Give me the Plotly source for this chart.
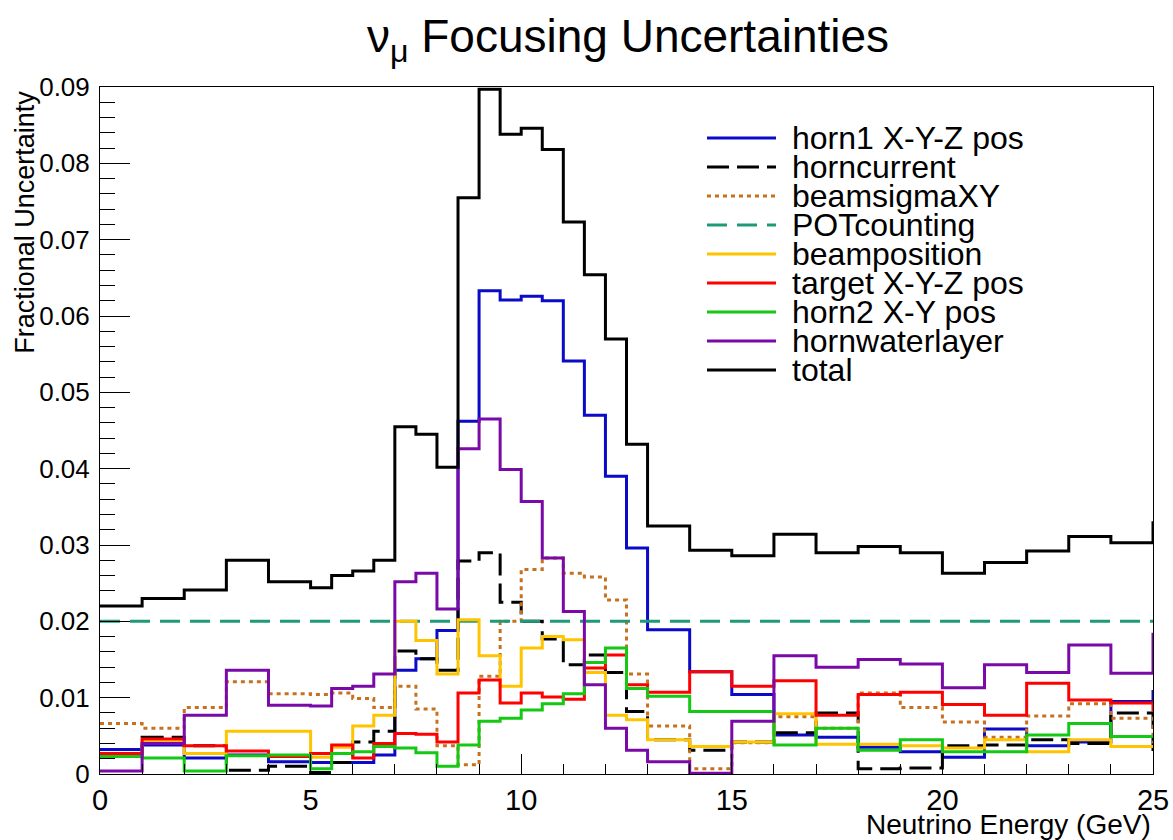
import plotly.graph_objects as go

# Energy binning (GeV): 1 GeV bins up to 5, 0.5 GeV bins to 13, then 1 GeV bins to 25
bin_edges = [0, 1, 2, 3, 4, 5, 5.5, 6, 6.5, 7, 7.5, 8, 8.5, 9, 9.5, 10, 10.5,
             11, 11.5, 12, 12.5, 13, 14, 15, 16, 17, 18, 19, 20, 21, 22, 23, 24, 25]

horn1_xyz = [0.0032, 0.0038, 0.0021, 0.0025, 0.0016, 0.0015, 0.0015, 0.0015, 0.0025,
             0.0136, 0.0151, 0.0188, 0.0462, 0.0633, 0.0621, 0.0626, 0.0620, 0.0541,
             0.0470, 0.0390, 0.0296, 0.0189, 0.0134, 0.0104, 0.0051, 0.0048, 0.0035,
             0.0029, 0.0022, 0.0059, 0.0037, 0.0042, 0.0095]
horncurrent = [0.0024, 0.0048, 0.0037, 0.0005, 0.0010, 0.0002, 0.0015, 0.0042, 0.0056,
               0.0161, 0.0151, 0.0136, 0.0279, 0.0290, 0.0225, 0.0200, 0.0177, 0.0143,
               0.0156, 0.0133, 0.0082, 0.0045, 0.0031, 0.0042, 0.0054, 0.0080, 0.0007,
               0.0008, 0.0037, 0.0038, 0.0045, 0.0040, 0.0080]
beamsigma_xy = [0.0066, 0.0060, 0.0087, 0.0121, 0.0105, 0.0104, 0.0106, 0.0099, 0.0087,
                0.0115, 0.0085, 0.0037, 0.0012, 0.0128, 0.0200, 0.0268, 0.0283, 0.0263,
                0.0258, 0.0228, 0.0131, 0.0063, 0.0007, 0.0041, 0.0075, 0.0060, 0.0106,
                0.0087, 0.0068, 0.0048, 0.0076, 0.0092, 0.0073]
pot_counting = [0.0200] * 33
beam_position = [0.0025, 0.0042, 0.0027, 0.0056, 0.0056, 0.0022, 0.0035, 0.0063, 0.0077,
                 0.0200, 0.0175, 0.0131, 0.0202, 0.0155, 0.0115, 0.0165, 0.0180, 0.0176,
                 0.0133, 0.0077, 0.0071, 0.0045, 0.0036, 0.0042, 0.0079, 0.0039, 0.0039,
                 0.0037, 0.0034, 0.0045, 0.0029, 0.0045, 0.0036]
target_xyz = [0.0027, 0.0046, 0.0037, 0.0030, 0.0023, 0.0027, 0.0038, 0.0021, 0.0040,
              0.0053, 0.0052, 0.0042, 0.0106, 0.0123, 0.0093, 0.0106, 0.0101, 0.0098,
              0.0139, 0.0156, 0.0117, 0.0107, 0.0134, 0.0115, 0.0122, 0.0077, 0.0104,
              0.0107, 0.0091, 0.0077, 0.0119, 0.0097, 0.0093]
horn2_xy = [0.0023, 0.0021, 0.0004, 0.0024, 0.0025, 0.0007, 0.0027, 0.0029, 0.0036,
            0.0034, 0.0028, 0.0010, 0.0038, 0.0069, 0.0073, 0.0084, 0.0092, 0.0105,
            0.0146, 0.0165, 0.0112, 0.0102, 0.0082, 0.0082, 0.0038, 0.0060, 0.0031,
            0.0045, 0.0029, 0.0029, 0.0051, 0.0066, 0.0049]
horn_water_layer = [0.0004, 0.0040, 0.0077, 0.0136, 0.0090, 0.0089, 0.0112, 0.0115, 0.0131,
                    0.0252, 0.0263, 0.0216, 0.0426, 0.0465, 0.0399, 0.0357, 0.0283, 0.0213,
                    0.0117, 0.0060, 0.0031, 0.0016, 0.0001, 0.0069, 0.0155, 0.0140, 0.0150,
                    0.0144, 0.0113, 0.0143, 0.0133, 0.0169, 0.0132]
total = [0.0220, 0.0230, 0.0241, 0.0280, 0.0252, 0.0244, 0.0260, 0.0266, 0.0280,
         0.0455, 0.0445, 0.0402, 0.0755, 0.0897, 0.0838, 0.0846, 0.0818, 0.0723,
         0.0654, 0.0570, 0.0432, 0.0325, 0.0293, 0.0286, 0.0314, 0.0290, 0.0298,
         0.0290, 0.0263, 0.0277, 0.0292, 0.0311, 0.0303]

# content of the overflow bin (the outline steps to it at the upper edge)
overflow = {
    "horn1 X-Y-Z pos": 0.0110, "horncurrent": 0.0030, "beamsigmaXY": 0.0040,
    "POTcounting": 0.0200, "beamposition": 0.0036, "target X-Y-Z pos": 0.0082,
    "horn2 X-Y pos": 0.0049, "hornwaterlayer": 0.0185, "total": 0.0331,
}

series = [
    ("horn1 X-Y-Z pos", horn1_xyz, "#0a0ac8", "solid"),
    ("horncurrent", horncurrent, "#000000", "22px,8px"),
    ("beamsigmaXY", beamsigma_xy, "#c8701e", "4px,4px"),
    ("POTcounting", pot_counting, "#1e9a78", "20px,10px"),
    ("beamposition", beam_position, "#ffc400", "solid"),
    ("target X-Y-Z pos", target_xyz, "#ff0000", "solid"),
    ("horn2 X-Y pos", horn2_xy, "#14c814", "solid"),
    ("hornwaterlayer", horn_water_layer, "#7a0aa8", "solid"),
    ("total", total, "#000000", "solid"),
]

FONT = "Liberation Sans, Arial, Helvetica, sans-serif"
LINE_W = 3

fig = go.Figure()

for name, vals, color, dash in series:
    xs = list(bin_edges[:-1]) + [bin_edges[-1]]
    ys = list(vals) + [overflow[name]]
    fig.add_trace(go.Scatter(
        x=xs, y=ys, mode="lines", name=name, showlegend=False,
        line=dict(shape="hv", color=color, width=LINE_W, dash=dash),
        hoverinfo="skip",
    ))

# Legend drawn on a pixel-coordinate overlay so the sample lines can be long
leg_x0, leg_x1, leg_text_x = 707, 776, 791
leg_y0, leg_dy = 138, 29
for i, (name, vals, color, dash) in enumerate(series):
    yy = leg_y0 + i * leg_dy
    fig.add_trace(go.Scatter(
        x=[leg_x0, leg_x1], y=[yy, yy], mode="lines", showlegend=False,
        xaxis="x2", yaxis="y2", hoverinfo="skip",
        line=dict(color=color, width=LINE_W, dash=dash),
    ))
    fig.add_annotation(
        x=leg_text_x, y=yy, xref="x2", yref="y2", text=name, showarrow=False,
        xanchor="left", yanchor="middle", borderpad=0,
        font=dict(family=FONT, size=32, color="black"),
    )

fig.add_annotation(
    x=1.0, y=-0.074, xref="paper", yref="paper", text="Neutrino Energy (GeV)",
    showarrow=False, xanchor="right", yanchor="middle",
    font=dict(family=FONT, size=28, color="black"),
)
fig.add_annotation(
    x=-0.072, y=0.997, xref="paper", yref="paper", text="Fractional Uncertainty",
    showarrow=False, xanchor="center", yanchor="top", textangle=-90,
    font=dict(family=FONT, size=27, color="black"),
)

fig.update_layout(
    width=1173, height=840,
    margin=dict(l=100, r=20, t=87, b=66),
    paper_bgcolor="white", plot_bgcolor="white",
    font=dict(family=FONT, color="black"),
    title=dict(
        text="\u03bd<sub>\u03bc</sub> Focusing Uncertainties",
        x=0.5354, xanchor="center", y=1 - 36 / 840, yanchor="middle",
        font=dict(family=FONT, size=46, color="black"),
    ),
    xaxis=dict(
        range=[0, 25], tickvals=[0, 5, 10, 15, 20, 25], ticks="inside", ticklen=20,
        tickwidth=1, tickcolor="black", showline=True, linecolor="black", linewidth=1,
        mirror=True, showgrid=False, zeroline=False, automargin=False,
        tickfont=dict(family=FONT, size=29, color="black"),
        minor=dict(dtick=1, ticks="inside", ticklen=10, tickcolor="black", showgrid=False),
    ),
    yaxis=dict(
        range=[0, 0.09], dtick=0.01, tick0=0, ticks="inside", ticklen=30,
        tickwidth=1, tickcolor="black", showline=True, linecolor="black", linewidth=1,
        mirror=True, showgrid=False, zeroline=False, ticklabelstandoff=4, automargin=False,
        tickfont=dict(family=FONT, size=26, color="black"),
        minor=dict(dtick=0.002, ticks="inside", ticklen=15, tickcolor="black", showgrid=False),
    ),
    xaxis2=dict(range=[100, 1153], overlaying="x", anchor="y2", visible=False),
    yaxis2=dict(range=[774, 87], overlaying="y", anchor="x2", visible=False),
)

fig.write_html("out.html")
